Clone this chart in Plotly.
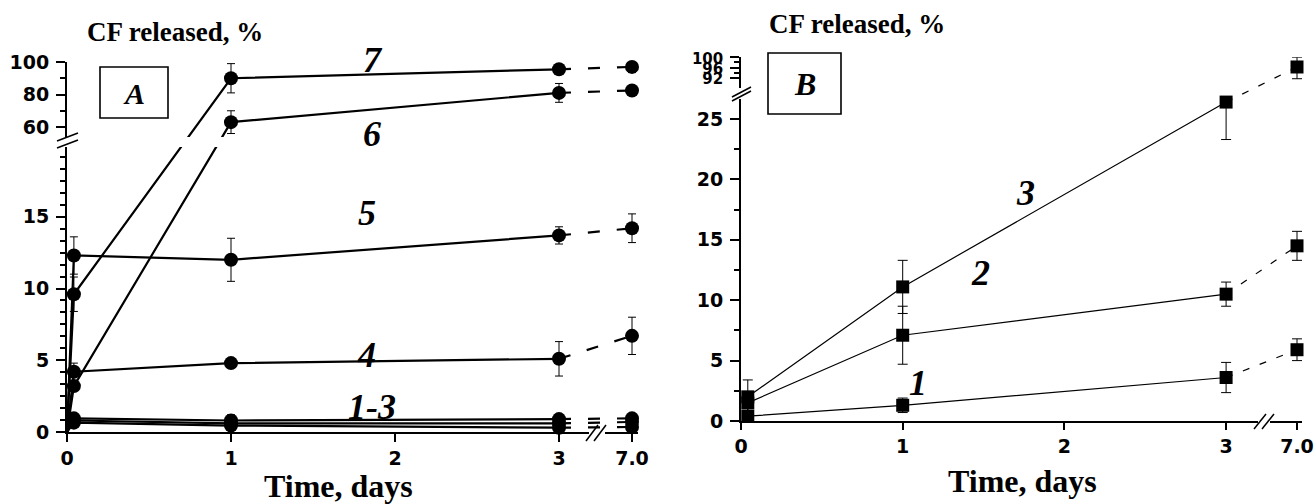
import numpy as np
import plotly.graph_objects as go

W, H = 1315, 504

# ---------------- data : panel A (circles) ----------------
a_time = [0, 0.042, 1, 3, 7]
a_s1 = [0, 0.65, 0.45, 0.30, 0.35]
a_s1_err = [0, 0.1, 0.2, 0.1, 0.1]
a_s2 = [0, 0.80, 0.60, 0.60, 0.70]
a_s2_err = [0, 0.1, 0.3, 0.2, 0.2]
a_s3 = [0, 0.95, 0.80, 0.90, 0.95]
a_s3_err = [0, 0.2, 0.4, 0.2, 0.2]
a_s4 = [0, 4.2, 4.8, 5.1, 6.7]
a_s4_err = [0, 0.6, 0.3, 1.2, 1.3]
a_s5 = [0, 12.3, 12.0, 13.7, 14.2]
a_s5_err = [0, 1.3, 1.5, 0.6, 1.0]
a_s6 = [0, 3.2, 63.0, 81.0, 82.5]
a_s6_err = [0, 0.3, 7.0, 5.8, 1.5]
a_s7 = [0, 9.6, 90.0, 95.5, 97.0]
a_s7_err = [0, 1.2, 9.0, 1.5, 3.5]

# ---------------- data : panel B (squares) ----------------
b_time = [0.042, 1, 3, 7]
b_s1 = [0.4, 1.3, 3.6, 5.9]
b_s1_err = [0.3, 0.6, 1.25, 0.9]
b_s2 = [1.5, 7.1, 10.5, 14.5]
b_s2_err = [0.9, 2.4, 1.0, 1.2]
b_s3 = [2.0, 11.1, 26.4, 96.2]
b_s3_err = [1.4, 2.2, 3.1, 4.6]

# tick labels
x_tick_vals = [0, 1, 2, 3, 7]
x_tick_text = ["0", "1", "2", "3", "7.0"]
a_y_major = [0, 5, 10, 15, 60, 80, 100]
a_y_minor = [k * 5 / 6 for k in range(1, 24) if k % 6 != 0] + [70, 90]
b_y_major = [0, 5, 10, 15, 20, 25, 92, 96, 100]
b_y_minor = [2.5, 7.5, 12.5, 17.5, 22.5, 94, 98]

# ---------------- broken-axis scales ----------------
A_X = [(0, 0), (3, 492), (7, 565)]
A_Y = [(0, 0), (20, 287), (53, 293.6), (100, 370)]
B_X = [(0, 0), (3, 485.1), (7, 556)]
B_Y = [(0, 0), (26.6, 321.3), (89, 335.6), (100, 363.65)]


def scale(vals, pts):
    xs = [p[0] for p in pts]
    ys = [p[1] for p in pts]
    return list(np.interp(np.asarray(vals, dtype=float), xs, ys))


def px(x):
    return x / W


def py(y):
    return 1 - y / H


fig = go.Figure()

SERIF = "Liberation Serif"
SANS = "DejaVu Sans"


def add_series(t, v, e, XS, YS, xa, ya, symbol, lw, dash, size, skip_first, ew):
    xt = scale(t, XS)
    yt = scale(v, YS)
    solid = [i for i, tt in enumerate(t) if tt <= 3]
    dashed = [i for i, tt in enumerate(t) if tt >= 3]
    fig.add_trace(go.Scatter(x=[xt[i] for i in solid], y=[yt[i] for i in solid], mode="lines",
                             line=dict(color="black", width=lw), xaxis=xa, yaxis=ya,
                             hoverinfo="skip"))
    fig.add_trace(go.Scatter(x=[xt[i] for i in dashed], y=[yt[i] for i in dashed], mode="lines",
                             line=dict(color="black", width=lw, dash=dash), xaxis=xa, yaxis=ya,
                             hoverinfo="skip"))
    idx = [i for i in range(len(t)) if not (skip_first and t[i] == 0)]
    up = scale([v[i] + e[i] for i in idx], YS)
    dn = scale([v[i] - e[i] for i in idx], YS)
    ym = [yt[i] for i in idx]
    return dict(x=[xt[i] for i in idx], y=ym,
                plus=[u - m for u, m in zip(up, ym)],
                minus=[m - d for m, d in zip(ym, dn)],
                xa=xa, ya=ya, symbol=symbol, size=size, ew=ew)


markers = []
for v, e in [(a_s1, a_s1_err), (a_s2, a_s2_err), (a_s3, a_s3_err), (a_s4, a_s4_err),
             (a_s5, a_s5_err), (a_s6, a_s6_err), (a_s7, a_s7_err)]:
    markers.append(add_series(a_time, v, e, A_X, A_Y, "x", "y", "circle", 2.2,
                              "12px,17px", 14, True, 4))
for v, e in [(b_s1, b_s1_err), (b_s2, b_s2_err), (b_s3, b_s3_err)]:
    markers.append(add_series(b_time, v, e, B_X, B_Y, "x2", "y2", "square", 1.2,
                              "7px,11px", 13, False, 5))

for m in markers:
    fig.add_trace(go.Scatter(
        x=m["x"], y=m["y"], mode="markers", xaxis=m["xa"], yaxis=m["ya"],
        marker=dict(symbol=m["symbol"], size=m["size"], color="black", line=dict(width=0)),
        error_y=dict(type="data", symmetric=False, array=m["plus"], arrayminus=m["minus"],
                     color="black", thickness=1, width=m["ew"]),
        hoverinfo="skip", cliponaxis=False))

tickfont = dict(family=SANS, size=19, color="black", weight="bold")
axis_common = dict(showline=True, linecolor="black", linewidth=2, showgrid=False,
                   zeroline=False, ticks="outside", tickcolor="black", tickwidth=2,
                   tickfont=tickfont, fixedrange=True, automargin=False)

b_y_text = []
for val in b_y_major:
    if val >= 90:
        b_y_text.append('<span style="font-size:15px">%d</span>' % val)
    else:
        b_y_text.append(str(val))

fig.update_layout(
    width=W, height=H, margin=dict(l=0, r=0, t=0, b=0, pad=0, autoexpand=False),
    paper_bgcolor="white", plot_bgcolor="white", showlegend=False,
    xaxis=dict(domain=[px(67), px(638)], range=[0, 571], anchor="y",
               tickmode="array", tickvals=scale(x_tick_vals, A_X), ticktext=x_tick_text,
               ticklen=8, **axis_common),
    yaxis=dict(domain=[py(432), py(62)], range=[0, 370], anchor="x",
               tickmode="array", tickvals=scale(a_y_major, A_Y),
               ticktext=[str(v) for v in a_y_major], ticklen=9, ticklabelstandoff=3,
               minor=dict(tickmode="array", tickvals=scale(a_y_minor, A_Y), ticklen=5,
                          tickwidth=2, tickcolor="black", ticks="outside"),
               **axis_common),
    xaxis2=dict(domain=[px(741), px(1302)], range=[0, 561], anchor="y2",
                tickmode="array", tickvals=scale(x_tick_vals, B_X), ticktext=x_tick_text,
                ticklen=7, **axis_common),
    yaxis2=dict(domain=[py(421), py(57.3)], range=[0, 363.65], anchor="x2",
                tickmode="array", tickvals=scale(b_y_major, B_Y), ticktext=b_y_text,
                ticklen=9, ticklabelstandoff=3,
                minor=dict(tickmode="array", tickvals=scale(b_y_minor, B_Y), ticklen=5,
                           tickwidth=2, tickcolor="black", ticks="outside"),
                **axis_common),
)

shapes = []


def pline(x0, y0, x1, y1, w=1.5):
    shapes.append(dict(type="line", xref="paper", yref="paper", x0=px(x0), y0=py(y0),
                       x1=px(x1), y1=py(y1), line=dict(color="black", width=w), layer="above"))


def prect(x0, y0, x1, y1, fill="white", lw=0):
    shapes.append(dict(type="rect", xref="paper", yref="paper", x0=px(x0), y0=py(y0),
                       x1=px(x1), y1=py(y1), fillcolor=fill,
                       line=dict(color="black", width=lw), layer="above"))


# label boxes
shapes.append(dict(type="rect", xref="paper", yref="paper", x0=px(100), y0=py(118), x1=px(168),
                   y1=py(67), line=dict(color="black", width=1.6), fillcolor="rgba(0,0,0,0)",
                   layer="above"))
shapes.append(dict(type="rect", xref="paper", yref="paper", x0=px(768), y0=py(114), x1=px(841),
                   y1=py(53), line=dict(color="black", width=1.6), fillcolor="rgba(0,0,0,0)",
                   layer="above"))

# panel A y break
prect(58, 137, 235, 147)
pline(57, 141, 78, 133)
pline(57, 148, 78, 140)
# panel A x break
prect(589, 429.5, 605, 435)
pline(586, 441, 598, 425)
pline(594, 441, 606, 425)
# panel B y break
prect(735, 88, 748, 99)
pline(732, 97, 751, 87)
pline(732, 101, 751, 91)
# panel B x break
prect(1258, 418.5, 1270, 424)
pline(1254, 429, 1266, 414)
pline(1262, 429, 1274, 414)

fig.update_layout(shapes=shapes)

ann = []


def text(x, y, s, size, xanchor="center", italic=False):
    ann.append(dict(xref="paper", yref="paper", x=px(x), y=py(y), text=s, showarrow=False,
                    xanchor=xanchor, yanchor="middle",
                    font=dict(family=SERIF, size=size, color="black",
                              style="italic" if italic else "normal", weight="bold")))


text(85, 32, "CF released, %", 27, xanchor="left")
text(767, 24, "CF released, %", 27, xanchor="left")
text(338, 486, "Time, days", 32)
text(1022, 481, "Time, days", 32)
text(134, 93, "A", 30, italic=True)
text(805, 84, "B", 32, italic=True)

a_labels = ["7", "6", "5", "4", "1-3"]
a_label_pos = [(373, 60), (372, 134), (367, 213), (367, 355), (372, 407)]
for s, (x, y) in zip(a_labels, a_label_pos):
    text(x, y, s, 36, italic=True)

b_labels = ["3", "2", "1"]
b_label_pos = [(1025, 193), (980, 273), (918, 383)]
for s, (x, y) in zip(b_labels, b_label_pos):
    text(x, y, s, 36, italic=True)

fig.update_layout(annotations=ann)

fig.write_html("out.html", config={"displayModeBar": False},
               post_script="document.body.style.margin='0';document.body.style.padding='0';"
                           "document.body.style.overflow='hidden';")
